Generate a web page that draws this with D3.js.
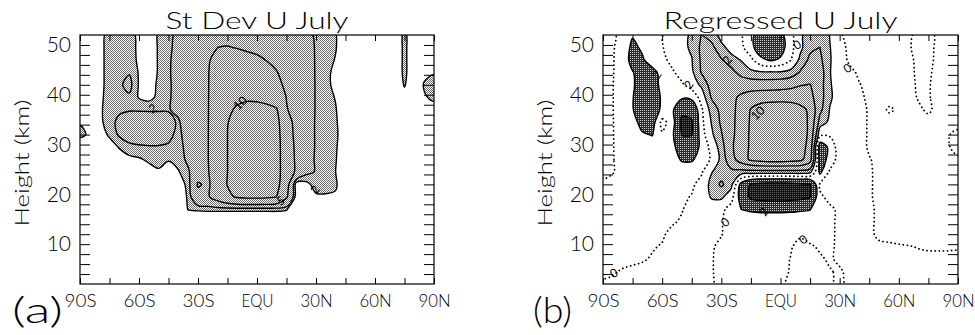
<!DOCTYPE html>
<html>
<head>
<meta charset="utf-8">
<script src="https://cdn.jsdelivr.net/npm/d3@7"></script>
<style>
  body { margin: 0; background: #fff; }
  svg { display: block; }
  text { font-family: Lato, "DejaVu Sans", sans-serif; font-weight: 300; fill: #000; }
</style>
</head>
<body>
<svg id="chart" width="975" height="335"></svg>
<script>
// grid axes of both fields
const lats = [-90,-85,-80,-75,-70,-65,-60,-55,-50,-45,-40,-35,-30,-25,-20,-15,-10,-5,0,5,10,15,20,25,30,35,40,45,50,55,60,65,70,75,80,85,90];
const heights = [52,49.5,47,44.5,42,39.5,37,34.5,32,29.5,27,24.5,22,19.5,17,14.5,12,9.5,7,4.5,2];

const latTicks = [-90,-75,-60,-45,-30,-15,0,15,30,45,60,75,90];
const latLabelTicks = [-90,-60,-30,0,30,60,90];
const latLabelText = ["90S","60S","30S","EQU","30N","60N","90N"];
const heightTicks = [4,6,8,10,12,14,16,18,20,22,24,26,28,30,32,34,36,38,40,42,44,46,48,50];
const heightLabelTicks = [10,20,30,40,50];

// (a) standard deviation of U, July (m/s), rows from 52 km down to 2 km
const stdevU = [
  [0,0,0.6,1.4,1.5,1.3,0.8,0.5,1.1,1.6, 2.4,3,3.5,4,4.3,4.2,4,3.8,3.6,3.4, 3.2,3,2.8,2.4,1.8,1.4,1.05,0.4,0,0, 0,0,0,1.3,0,0,0],
  [0,0,0.6,1.5,1.6,1.4,0.8,0.4,1.1,1.7, 2.5,3.1,3.7,4.4,5.0,5.1,4.9,4.6,4.3,4, 3.7,3.4,3.0,2.5,1.9,1.4,1.05,0.4,0,0, 0,0,0,1.3,0,0,0],
  [0,0,0.6,1.5,1.7,1.5,0.8,0.4,1.1,1.8, 2.6,3.3,4.0,4.8,5.6,6,6,5.8,5.5,4.9, 4.4,3.8,3.2,2.6,1.9,1.3,0.95,0.4,0,0, 0,0,0,1.3,0,0,0],
  [0,0,0.6,1.5,1.7,1.9,0.9,0.4,1.1,1.8, 2.7,3.5,4.2,4.9,5.8,6.5,6.8,6.8,6.5,6, 5.1,4.2,3.4,2.7,1.9,1.2,0.8,0.3,0,0, 0,0,0,1.3,0,0.7,0.9],
  [0,0,0.6,1.5,1.8,2.4,0.9,0.5,1.2,1.7, 2.8,3.6,4.3,4.9,6,7.2,7.8,8,7.8,7.2, 5.8,4.4,3.6,2.8,1.9,1.2,0.8,0.3,0,0, 0,0,0,1.1,0,1.1,1.5],
  [0,0,0.7,1.5,1.7,1.8,0.9,0.6,1.3,1.8, 2.6,3.6,4.3,4.9,6.2,8,9,9.5,9.4,9, 7.5,4.9,3.7,2.8,1.9,1.3,0.95,0.4,0,0, 0,0,0,0.6,0,0.9,1.2],
  [0,0,0.8,1.5,1.8,1.9,1.9,1.9,1.9,1.9, 2.4,3.6,4.3,4.9,6.4,9.2,10.6,11,11,10.8, 10.3,5.2,3.8,2.8,1.9,1.4,1.05,0.4,0,0, 0,0,0,0,0,0.6,0.6],
  [0.9,0,0.7,1.6,2.3,2.7,2.7,2.6,2.6,2.5, 1.8,3,4.3,4.9,6.6,9.8,12,12.5,12.5,12.2, 11.2,6.5,3.9,2.6,1.9,1.4,1.1,0.5,0,0, 0,0,0,0,0,0.5,0.5],
  [1.3,0.8,0.4,1.2,2.2,2.8,2.9,2.8,2.7,2.4, 1.6,2.8,4.2,4.9,6.8,10,12.5,13,13,12.7, 11.5,7,4,2.6,1.9,1.4,1.15,0.5,0,0, 0,0,0,0,0,0.4,0.4],
  [0,0,0,0.4,1.1,1.6,1.8,1.9,1.9,1.8, 1.5,2.5,4,4.9,6.8,10,12.5,13,13,12.7, 11.5,7.5,4.2,2.6,1.9,1.4,1.1,0.4,0,0, 0,0,0,0,0,0,0],
  [0,0,0,0,0.3,0.7,0.85,1.2,1.5,1.05, 1.4,2.3,3.8,4.9,6.8,10,12.5,13,13,12.7, 11.5,7.5,4.4,2.8,1.8,1.4,1.05,0.4,0,0, 0,0,0,0,0,0,0],
  [0,0,0,0,0,0,0.2,0.5,0.8,0.7, 0.9,1.8,3.4,4.8,6.8,10,12.5,13,13,12.7, 11.5,7.5,4.4,2.4,1.9,1.4,1.0,0.4,0,0, 0,0,0,0,0,0,0],
  [0,0,0,0,0,0,0,0,0,0, 0.4,1.3,5.3,4.5,6.8,10.2,12.5,13,13,12.7, 11.5,6.5,0.3,0.6,1.5,1.3,1.1,0.4,0,0, 0,0,0,0,0,0,0],
  [0,0,0,0,0,0,0,0,0,0, 0,1.2,4.0,4.6,6.8,9,10.5,11,11,10.8, 10,5.5,0.3,0.3,0.8,0.9,0.9,0.3,0,0, 0,0,0,0,0,0,0],
  [0,0,0,0,0,0,0,0,0,0, 0,1.05,1.15,1.2,1.2,1.2,1.2,1.2,1.2,1.2, 1.2,1.1,0,0,0,0,0,0,0,0, 0,0,0,0,0,0,0],
  [0,0,0,0,0,0,0,0,0,0, 0,0,0,0,0,0,0,0,0,0, 0,0,0,0,0,0,0,0,0,0, 0,0,0,0,0,0,0],
  [0,0,0,0,0,0,0,0,0,0, 0,0,0,0,0,0,0,0,0,0, 0,0,0,0,0,0,0,0,0,0, 0,0,0,0,0,0,0],
  [0,0,0,0,0,0,0,0,0,0, 0,0,0,0,0,0,0,0,0,0, 0,0,0,0,0,0,0,0,0,0, 0,0,0,0,0,0,0],
  [0,0,0,0,0,0,0,0,0,0, 0,0,0,0,0,0,0,0,0,0, 0,0,0,0,0,0,0,0,0,0, 0,0,0,0,0,0,0],
  [0,0,0,0,0,0,0,0,0,0, 0,0,0,0,0,0,0,0,0,0, 0,0,0,0,0,0,0,0,0,0, 0,0,0,0,0,0,0],
  [0,0,0,0,0,0,0,0,0,0, 0,0,0,0,0,0,0,0,0,0, 0,0,0,0,0,0,0,0,0,0, 0,0,0,0,0,0,0]
];

// (b) U regressed on the index, July (m/s), same grid
const regressedU = [
  [0.4,0.15,-0.3,-1.8,-1.2,-0.8,-0.05,0.6,1.4,2.3, 4.1,3.2,1.2,0.6,0.2,-1.5,-3,-3.2,-2.5,-1, 1.6,3,3.2,1.9,0.2,-0.5,-0.6,-0.6,-0.5,-0.5, -0.4,-0.2,0.3,0.3,-0.2,-0.3,-0.3],
  [0.4,0.1,-0.5,-2.6,-1.6,-0.9,-0.1,0.7,1.5,2.3, 4.5,4.6,2.6,1.2,0.5,-1.3,-3.5,-4,-3,-0.8, 1.5,3.5,4,2.1,0.5,-0.3,-0.5,-0.6,-0.5,-0.5, -0.4,-0.1,0.3,0.25,-0.2,-0.3,-0.3],
  [0.4,0.1,-0.8,-2.8,-2.3,-0.8,-0.5,0.5,1.4,1.9, 4.4,5.2,4.2,2.8,1.9,0.5,-1.5,-2.3,-1.7,-0.2, 2.5,4.5,4.5,2.2,0.6,-0.2,-0.5,-0.6,-0.5,-0.5, -0.4,-0.2,0.2,0.2,-0.2,-0.3,-0.3],
  [0.4,0.1,-0.9,-1.9,-3,-2.8,-1.2,-0.3,0.8,1.6, 4.2,5.8,5.8,4.8,3.2,2.4,2.2,2.2,2.2,2.6, 4.2,5.5,5.2,2.1,0.8,0.3,-0.2,-0.4,-0.4,-0.4, -0.4,-0.2,0.15,0.1,-0.2,-0.3,-0.3],
  [0.3,0.05,-1.2,-1.7,-3.2,-3.0,-1.4,-0.8,-0.3,0.9, 2.4,5,5.8,5.8,5.6,5.4,5.3,5.3,5.5,6, 6.8,7.1,5,2.2,1.0,0.5,0.05,-0.3,-0.4,-0.4, -0.4,-0.2,0.1,0.05,-0.2,-0.3,-0.3],
  [0.3,0.05,-1.3,-1.9,-3.3,-3.3,-1.7,-0.8,-1.6,-1.4, 0.8,4.2,5.3,6.3,7.5,8.5,9,9.2,9.3,9.3, 9,8,5,2.3,1.1,0.6,0.2,-0.2,-0.4,-0.3, -0.3,-0.2,0.05,0.05,-0.2,-0.3,-0.3],
  [0.3,0.05,-1.2,-1.9,-3.2,-3.2,-1.6,-1.5,-4.5,-4.3, -0.3,2.8,4.6,6.4,7.8,10.2,11,11.2,11.2,11, 10.6,9.6,4.6,1.9,1.0,0.6,0.3,-0.1,-0.3,0.1, -0.1,-0.2,-0.1,0.1,-0.2,-0.3,-0.3],
  [0.3,0.05,-0.8,-1.3,-2.7,-3.0,0.6,-0.8,-5.5,-5.2, -0.5,2.1,4.4,6.4,8,10.4,11.5,11.8,11.8,11.6, 11,9.6,3,1.6,0.9,0.5,0.3,-0.1,-0.3,-0.3, -0.3,-0.3,-0.3,-0.2,-0.2,-0.3,-0.3],
  [0.3,0.05,-0.6,-0.9,-1.8,-2.1,-0.2,-1.5,-5.1,-5.1, -0.8,1.6,3.8,6.4,8.2,10.5,11.8,12,12,11.8, 11.2,9.5,0.5,0.3,0.6,0.5,0.3,-0.1,-0.3,-0.3, -0.3,-0.3,-0.3,-0.3,-0.2,-0.05,0.2],
  [0.3,0.05,-0.5,-0.7,-0.9,-1.0,-1.0,-1.2,-3.6,-3.6, -1.4,0.6,2.9,6.6,8.4,10.5,11.8,12,12,11.8, 11.2,9,-3.5,-1.5,1.2,0.5,0.3,-0.1,-0.3,-0.3, -0.3,-0.3,-0.3,-0.3,-0.2,-0.05,0.2],
  [0.3,0.05,-0.4,-0.5,-0.6,-0.7,-0.8,-1.2,-2.2,-2.2, -1.3,0.3,2.5,5.8,8.5,10.5,11.2,11.5,11.5,11.2, 10.8,8.2,-3.2,-1.3,1.0,0.6,0.3,0.05,-0.2,-0.3, -0.3,-0.3,-0.3,-0.3,-0.2,-0.2,-0.1],
  [0.25,0.05,-0.3,-0.4,-0.5,-0.6,-0.7,-0.8,-1.0,-1.0, -0.2,1.9,2.8,3.4,3.0,3.0,3.0,3.0,3.0,3.0, 3.0,2.6,-2.5,0.3,0.9,0.6,0.3,0.1,-0.2,-0.3, -0.3,-0.3,-0.3,-0.3,-0.3,-0.2,-0.2],
  [-0.2,-0.3,-0.3,-0.4,-0.5,-0.6,-0.7,-0.7,-0.6,-0.3, 0.6,2.6,4.4,2.6,-2.8,-5.3,-5.8,-6,-6,-5.8, -5.5,-5.1,0.2,0.3,0.8,0.6,0.3,0.1,-0.2,-0.3, -0.3,-0.3,-0.3,-0.3,-0.3,-0.2,-0.2],
  [-0.3,-0.4,-0.4,-0.5,-0.5,-0.5,-0.5,-0.5,-0.3,0.1, 0.8,2.2,2.4,0.8,-3.0,-5.6,-6.2,-6.4,-6.4,-6.2, -5.8,-5.2,-0.2,0.3,0.7,0.5,0.3,0.1,-0.2,-0.3, -0.3,-0.3,-0.3,-0.3,-0.3,-0.2,-0.2],
  [-0.3,-0.4,-0.4,-0.4,-0.4,-0.4,-0.3,-0.2,-0.05,0.3, 0.6,0.9,0.5,-0.8,-2.0,-2.2,-2.3,-2.3,-2.3,-2.3, -2.2,-2.1,-0.4,-0.2,0.2,0.4,0.3,0.1,-0.1,-0.2, -0.2,-0.2,-0.2,-0.2,-0.2,-0.2,-0.2],
  [-0.3,-0.35,-0.35,-0.35,-0.3,-0.3,-0.2,-0.1,0.1,0.3, 0.5,0.4,0.1,-0.6,-1.0,-1.2,-1.2,-1.2,-1.2,-1.1, -1.0,-0.8,-0.5,-0.2,0.2,0.4,0.3,0.1,-0.1,-0.2, -0.2,-0.2,-0.2,-0.2,-0.2,-0.2,-0.2],
  [-0.3,-0.3,-0.3,-0.25,-0.2,-0.1,-0.1,0.2,0.3,0.4, 0.4,0.3,0.05,-0.4,-0.6,-0.6,-0.5,-0.4,-0.3,-0.2, -0.15,-0.3,-0.4,-0.2,0.2,0.4,0.3,0.1,-0.1,-0.15, -0.2,-0.2,-0.2,-0.2,-0.2,-0.2,-0.2],
  [-0.25,-0.25,-0.2,-0.15,-0.1,-0.05,0.05,0.2,0.3,0.4, 0.4,0.1,-0.2,-0.4,-0.5,-0.5,-0.4,-0.3,-0.3,-0.1, 0.3,0.1,-0.1,-0.25,0.3,0.4,0.3,0.2,0.1,0.08, 0.05,0.02,-0.02,-0.05,-0.05,-0.05,-0.05],
  [-0.2,-0.2,-0.15,-0.1,-0.05,0.05,0.2,0.3,0.35,0.35, 0.3,0.05,-0.2,-0.35,-0.4,-0.4,-0.35,-0.25,-0.25,0.02, 0.35,0.3,0.1,-0.1,0.15,0.3,0.3,0.25,0.2,0.15, 0.12,0.1,0.1,0.1,0.1,0.1,0.1],
  [-0.1,-0.05,0.05,0.1,0.15,0.2,0.25,0.3,0.3,0.3, 0.25,0.05,-0.2,-0.3,-0.35,-0.35,-0.3,-0.2,-0.1,0.02, 0.3,0.3,0.2,0.05,-0.1,0.2,0.3,0.3,0.25,0.2, 0.15,0.15,0.15,0.15,0.15,0.15,0.15],
  [0.05,0.1,0.15,0.15,0.2,0.2,0.25,0.25,0.25,0.25, 0.2,0.05,-0.15,-0.25,-0.3,-0.3,-0.25,-0.15,-0.05,0.05, 0.25,0.25,0.15,0.05,-0.1,0.1,0.25,0.25,0.2,0.2, 0.15,0.15,0.15,0.15,0.15,0.15,0.15]
];

const stdevShade = 1;
const stdevLevels = [1, 2, 5, 10];
const regPosLevels = [2, 4, 7, 10];
const regNegLevels = [-2, -5];

// contour labels: latitude, height, text, angle
const stdevLabels = [
  [-53, 37.2, "2", -30], [-8.5, 38.3, "10", -45], [12, 18.7, "5", -30], [29.5, 21, "2", -55]
];
const regLabels = [
  [-84.5, 4.2, "0", -30], [-28, 14.4, "0", -40], [11.5, 10.9, "0", -35], [34, 45.3, "0", -35],
  [8.4, 50, "0", -30], [-11.5, 36.3, "10", -45], [-62.7, 44, "2", -55], [-46.5, 42, "2", -55],
  [-27, 47, "2", -55], [-8.5, 16.5, "2", -55]
];

const svg = d3.select("#chart");
const defs = svg.append("defs");

function stipple(id, bg, fg, dots) {
  const p = defs.append("pattern").attr("id", id)
    .attr("width", 2).attr("height", 2).attr("patternUnits", "userSpaceOnUse");
  p.append("rect").attr("width", 2).attr("height", 2).attr("fill", bg).attr("shape-rendering", "crispEdges");
  dots.forEach(d => p.append("rect").attr("x", d[0]).attr("y", d[1]).attr("width", 1).attr("height", 1)
    .attr("fill", fg).attr("shape-rendering", "crispEdges"));
}
stipple("lite", "#fff", "#6a6a6a", [[0, 0], [1, 1]]);
stipple("dark", "#2a2a2a", "#d0d0d0", [[0, 0]]);
stipple("darker", "#111", "#666", [[0, 0]]);

const y = d3.scaleLinear().domain([2, 52]).range([284, 35]);

function drawPanel(p) {
  const g = svg.append("g");
  const x = d3.scaleLinear().domain([-90, 90]).range([p.x0, p.x1]);
  const n = lats.length, m = heights.length;
  const gx = d3.scaleLinear().domain([0.5, n - 0.5]).range([x(lats[0]), x(lats[n - 1])]);
  const gy = d3.scaleLinear().domain([0.5, m - 0.5]).range([y(heights[0]), y(heights[m - 1])]);
  const flat = p.grid.flat();
  const neg = flat.map(v => -v);
  const contours = d3.contours().size([n, m]);
  const line = d3.line().curve(d3.curveCatmullRomClosed.alpha(0.5));
  const pathOf = (vals, t) => {
    const geom = contours.contour(vals, t);
    return geom.coordinates.map(poly => poly.map(ring =>
      line(ring.slice(0, -1).map(q => [gx(q[0]), gy(q[1])]))).join("")).join("");
  };

  const clipId = "clip" + p.id;
  defs.append("clipPath").attr("id", clipId)
    .append("rect").attr("x", p.x0).attr("y", 35).attr("width", p.x1 - p.x0).attr("height", 249);
  const plot = g.append("g").attr("clip-path", `url(#${clipId})`);

  p.fills.forEach(f => {
    plot.append("path").attr("d", pathOf(f.neg ? neg : flat, f.t))
      .attr("fill", f.fill).attr("fill-rule", "evenodd");
  });
  p.lines.forEach(l => {
    const d = l.t < 0 ? pathOf(neg, -l.t) : pathOf(flat, l.t);
    const path = plot.append("path").attr("d", d).attr("fill", "none")
      .attr("stroke", "#000").attr("stroke-width", l.dot ? 1.8 : 1.4);
    if (l.dot) path.attr("stroke-dasharray", "0.1,4").attr("stroke-linecap", "round");
  });

  plot.selectAll("text.lab").data(p.labels).join("text").attr("class", "lab")
    .attr("transform", d => `translate(${x(d[0])},${y(d[1])}) rotate(${d[3]})`)
    .attr("text-anchor", "middle").attr("dy", "0.35em")
    .style("font-size", "12px").style("font-weight", 400).text(d => d[2]);

  // frame and axes
  g.append("rect").attr("x", p.x0).attr("y", 35).attr("width", p.x1 - p.x0).attr("height", 249)
    .attr("fill", "none").attr("stroke", "#000").attr("stroke-width", 1.2);

  const labelOf = d => { const i = latLabelTicks.indexOf(d); return i < 0 ? "" : latLabelText[i]; };
  const axes = [
    g.append("g").attr("transform", "translate(0,284)")
      .call(d3.axisBottom(x).tickValues(latTicks).tickSizeInner(-6).tickSizeOuter(0).tickPadding(11).tickFormat(labelOf)),
    g.append("g").attr("transform", "translate(0,35)")
      .call(d3.axisTop(x).tickValues(latTicks).tickSizeInner(-6).tickSizeOuter(0).tickFormat("")),
    g.append("g").attr("transform", `translate(${p.x0},0)`)
      .call(d3.axisLeft(y).tickValues(heightTicks).tickSizeInner(-10).tickSizeOuter(0).tickPadding(9)
        .tickFormat(d => heightLabelTicks.includes(d) ? d : "")),
    g.append("g").attr("transform", `translate(${p.x1},0)`)
      .call(d3.axisRight(y).tickValues(heightTicks).tickSizeInner(-10).tickSizeOuter(0).tickFormat(""))
  ];
  axes.forEach(a => { a.select(".domain").remove(); a.attr("font-family", null).attr("font-size", null); a.selectAll("line").attr("stroke-width", 1); });
  axes[0].selectAll("text").style("font-size", "17px")
    .attr("textLength", d => labelOf(d) ? 32 : null).attr("lengthAdjust", "spacingAndGlyphs");
  axes[2].selectAll("text").style("font-size", "21px");

  g.append("text").attr("x", (p.x0 + p.x1) / 2).attr("y", 29).attr("text-anchor", "middle")
    .style("font-size", "24px").attr("textLength", p.titleLen).attr("lengthAdjust", "spacingAndGlyphs").text(p.title);
  g.append("text").attr("transform", `translate(${p.x0 - 51},163) rotate(-90)`).attr("text-anchor", "middle")
    .style("font-size", "20px").attr("textLength", 127).attr("lengthAdjust", "spacingAndGlyphs").text("Height (km)");
  g.append("text").attr("x", p.tagX).attr("y", 323)
    .style("font-size", "36px").attr("textLength", p.tagLen).attr("lengthAdjust", "spacingAndGlyphs").text(p.tag);
}

drawPanel({
  id: "a", x0: 80, x1: 434, grid: stdevU, title: "St Dev U July", titleLen: 183, tag: "(a)", tagX: 12, tagLen: 51,
  fills: [{ t: stdevShade, fill: "url(#lite)" }],
  lines: stdevLevels.map(t => ({ t })),
  labels: stdevLabels
});

drawPanel({
  id: "b", x0: 603, x1: 958, grid: regressedU, title: "Regressed U July", titleLen: 234, tag: "(b)", tagX: 533, tagLen: 39,
  fills: [
    { t: regPosLevels[0], fill: "url(#lite)" },
    { t: -regNegLevels[0], neg: true, fill: "url(#dark)" },
    { t: -regNegLevels[1], neg: true, fill: "url(#darker)" }
  ],
  lines: regPosLevels.map(t => ({ t })).concat(regNegLevels.map(t => ({ t }))).concat([{ t: 0, dot: true }]),
  labels: regLabels
});
</script>
</body>
</html>
